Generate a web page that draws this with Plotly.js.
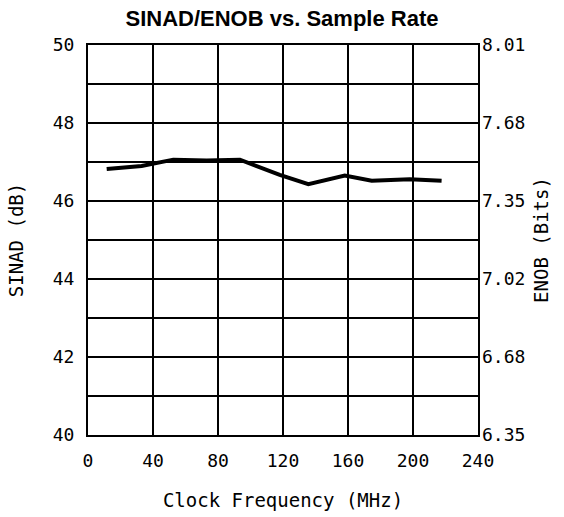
<!DOCTYPE html>
<html>
<head>
<meta charset="utf-8">
<script src="https://cdn.plot.ly/plotly-3.0.1.min.js"></script>
<style>html,body{margin:0;padding:0;background:#fff;}#chart{width:564px;height:517px;}</style>
</head>
<body>
<div id="chart"></div>
<script>
const clockMHz = [11.5, 33, 52.5, 73, 93.5, 118, 135.6, 158, 174.6, 198, 217.6];
const sinadDb  = [46.82, 46.9, 47.06, 47.04, 47.06, 46.67, 46.43, 46.65, 46.52, 46.56, 46.52];
const xTicks = [0, 40, 80, 120, 160, 200, 240];
const sinadGrid = [40, 41, 42, 43, 44, 45, 46, 47, 48, 49, 50];
const sinadTickText = ['40', '', '42', '', '44', '', '46', '', '48', '', '50'];
const enobTickText = ['6.35', '', '6.68', '', '7.02', '', '7.35', '', '7.68', '', '8.01'];

const tickFont = {family: 'DejaVu Sans Mono', size: 18, color: '#000'};
const titleFont = {family: 'DejaVu Sans Mono', size: 19, color: '#000'};

const data = [
  {x: clockMHz, y: sinadDb, type: 'scatter', mode: 'lines',
   line: {color: '#000', width: 4}, hoverinfo: 'skip', showlegend: false},
  {x: [clockMHz[0]], y: [sinadDb[0]], yaxis: 'y2', type: 'scatter', mode: 'lines',
   line: {width: 0}, hoverinfo: 'skip', showlegend: false}
];

const layout = {
  width: 564, height: 517,
  margin: {l: 88, r: 86, t: 45, b: 82},
  paper_bgcolor: '#fff', plot_bgcolor: '#fff',
  title: {text: '<b>SINAD/ENOB vs. Sample Rate</b>', x: 0.5, xanchor: 'center', y: 0.965, yanchor: 'middle',
          font: {family: 'Liberation Sans, Arial', size: 22, color: '#000'}},
  xaxis: {range: [0, 240], tickvals: xTicks, ticks: '', showgrid: true, gridcolor: '#000', gridwidth: 1.5,
          showline: true, linecolor: '#000', linewidth: 2, mirror: true, zeroline: false,
          tickfont: tickFont, ticklabelstandoff: 8,
          title: {text: 'Clock Frequency (MHz)', font: titleFont, standoff: 24}},
  yaxis: {range: [40, 50], tickvals: sinadGrid, ticktext: sinadTickText, ticks: '', showgrid: true,
          gridcolor: '#000', gridwidth: 1.5,
          showline: true, linecolor: '#000', linewidth: 2, mirror: true, zeroline: false,
          tickfont: tickFont, ticklabelstandoff: 8,
          title: {text: 'SINAD (dB)', font: titleFont, standoff: 24}},
  yaxis2: {range: [40, 50], overlaying: 'y', side: 'right', tickvals: sinadGrid, ticktext: enobTickText,
           ticks: '', showgrid: false, zeroline: false, showline: false,
           tickfont: tickFont, ticklabelstandoff: 3,
           title: {text: 'ENOB (Bits)', font: titleFont, standoff: 10}}
};

Plotly.newPlot('chart', data, layout, {displayModeBar: false, staticPlot: true});
</script>
</body>
</html>
